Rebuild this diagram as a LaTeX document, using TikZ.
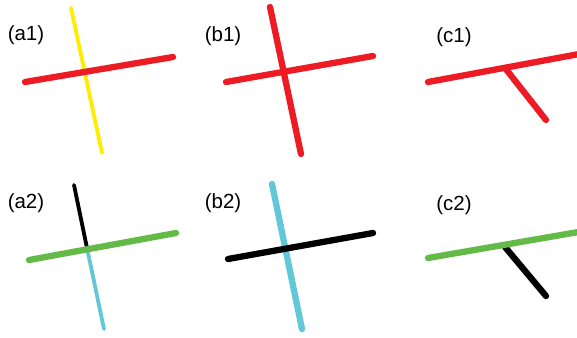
\documentclass[tikz,border=0pt]{standalone}
\usepackage{fontspec}
\setmainfont{Liberation Sans}
\usepackage{xcolor}
\usetikzlibrary{calc, positioning}

\definecolor{barred}{RGB}{237,28,36}
\definecolor{baryellow}{RGB}{255,236,0}
\definecolor{bargreen}{RGB}{100,186,70}
\definecolor{barcyan}{RGB}{98,200,216}

\tikzset{
    thickbar/.style={line width=6.3pt, line cap=round},
    thinbar/.style={line width=3.8pt, line cap=round},
    panellabel/.style={inner sep=0pt, font=\fontsize{20.5}{22}\selectfont}
}

\begin{document}
\begin{tikzpicture}[x=1pt, y=-1pt]

    % =================================================================
    % 1. KHUNG HÌNH
    % =================================================================
    \clip (0,0) rectangle (577,337);

    % =================================================================
    % 2. TỌA ĐỘ CÁC ĐẦU MÚT
    % =================================================================
    % Hình (a1)
    \coordinate (A1L) at (25,82);
    \coordinate (A1R) at (173,57);
    \coordinate (A1T) at (71,8);
    \coordinate (A1B) at (102,153);
    % Hình (b1)
    \coordinate (B1L) at (226,82);
    \coordinate (B1R) at (373,56);
    \coordinate (B1T) at (270,7);
    \coordinate (B1B) at (301,154);
    % Hình (c1)
    \coordinate (C1L) at (428,82);
    \coordinate (C1R) at (590,52);
    \coordinate (C1M) at (505,68);
    \coordinate (C1E) at (546,120);
    % Hình (a2)
    \coordinate (A2L) at (29,260);
    \coordinate (A2R) at (176,233);
    \coordinate (A2T) at (74,185);
    \coordinate (A2M) at (87,248);
    \coordinate (A2B) at (104,329);
    % Hình (b2)
    \coordinate (B2L) at (228,259);
    \coordinate (B2R) at (373,233);
    \coordinate (B2T) at (272,184);
    \coordinate (B2B) at (302,329);
    % Hình (c2)
    \coordinate (C2L) at (428,258);
    \coordinate (C2R) at (590,230);
    \coordinate (C2M) at (505,247);
    \coordinate (C2E) at (546,296);

    % =================================================================
    % 3. HÀNG TRÊN
    % =================================================================
    \draw[thinbar, baryellow] (A1T) -- (A1B);
    \draw[thickbar, barred] (A1L) -- (A1R);

    \draw[thickbar, barred] (B1T) -- (B1B);
    \draw[thickbar, barred] (B1L) -- (B1R);

    \draw[thickbar, barred] (C1M) -- (C1E);
    \draw[thickbar, barred] (C1L) -- (C1R);

    % =================================================================
    % 4. HÀNG DƯỚI
    % =================================================================
    \draw[thinbar, black] (A2T) -- (A2M);
    \draw[thinbar, barcyan] (A2M) -- (A2B);
    \draw[thickbar, bargreen] (A2L) -- (A2R);

    \draw[thickbar, barcyan] (B2T) -- (B2B);
    \draw[thickbar, black] (B2L) -- (B2R);

    \draw[thickbar, black] (C2M) -- (C2E);
    \draw[thickbar, bargreen] (C2L) -- (C2R);

    % =================================================================
    % 5. NHÃN
    % =================================================================
    \node[panellabel] (la1) at (26,35) {(a1)};
    \node[panellabel] (lb1) at (223,36) {(b1)};
    \node[panellabel] (lc1) at (454,37) {(c1)};
    \node[panellabel] (la2) at (26,203) {(a2)};
    \node[panellabel] (lb2) at (223,203) {(b2)};
    \node[panellabel] (lc2) at (454,205) {(c2)};

\end{tikzpicture}
\end{document}
